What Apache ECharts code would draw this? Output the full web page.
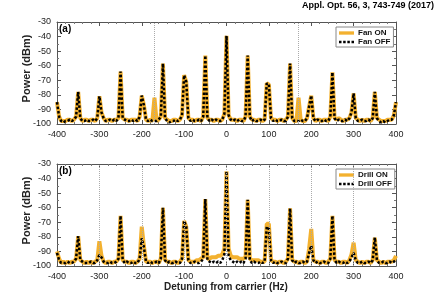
<!DOCTYPE html>
<html><head><meta charset="utf-8">
<script src="https://cdn.jsdelivr.net/npm/echarts@6/dist/echarts.min.js"></script>
<style>html,body{margin:0;padding:0;background:#fff}#c{width:438px;height:300px}</style>
</head><body><div id="c"></div>
<script>
const freq = [
-400,-395,-390,-385,-380,-375,-370,-365,-360,-355,-350,-345,-340,-335,-330,-325,-320,-315,-310,-305,
-300,-295,-290,-285,-280,-275,-270,-265,-260,-255,-250,-245,-240,-235,-230,-225,-220,-215,-210,-205,
-200,-195,-190,-185,-180,-175,-170,-165,-160,-155,-150,-145,-140,-135,-130,-125,-120,-115,-110,-105,
-100,-95,-90,-85,-80,-75,-70,-65,-60,-55,-50,-45,-40,-35,-30,-25,-20,-15,-10,-5,
0,5,10,15,20,25,30,35,40,45,50,55,60,65,70,75,80,85,90,95,
100,105,110,115,120,125,130,135,140,145,150,155,160,165,170,175,180,185,190,195,
200,205,210,215,220,225,230,235,240,245,250,255,260,265,270,275,280,285,290,295,
300,305,310,315,320,325,330,335,340,345,350,355,360,365,370,375,380,385,390,395,
400];
const fanOn = [
-85,-95,-98,-98,-98,-97,-97,-98,-97,-95,-78,-96,-98,-97,-97,-98,-97,-97,-98,-96,
-81,-92,-96,-98,-97,-97,-98,-97,-97,-96,-64,-96,-97,-97,-98,-97,-97,-97,-98,-95,
-80.5,-87,-97,-98,-97,-98,-82,-98,-97,-95,-58.5,-96,-97,-98,-98,-97,-97,-98,-97,-94,
-66.5,-71,-96,-97,-97,-98,-97,-97,-98,-95,-53,-96,-97,-97,-98,-97,-97,-98,-97,-93,
-39.5,-94,-97,-97,-97,-98,-97,-97,-98,-95,-53,-95,-97,-97,-98,-97,-97,-98,-97,-72,
-73,-96,-97,-97,-98,-97,-97,-98,-97,-95,-58.5,-96,-98,-98,-82,-97,-98,-98,-96,-88,
-80.5,-96,-98,-97,-97,-98,-97,-97,-98,-95,-64.5,-96,-97,-96,-97,-98,-97,-97,-96,-92,
-79,-96,-97,-98,-97,-98,-97,-97,-98,-96,-78,-96,-97,-98,-98,-98,-97,-97,-97,-94,
-85];
const fanOff = [
-85,-95,-98,-99,-98,-98,-97,-98,-97,-95,-78,-96,-98,-98,-97,-98,-98,-97,-98,-96,
-81,-92,-96,-98,-98,-97,-98,-97,-98,-96,-64,-96,-97,-98,-98,-97,-98,-97,-98,-95,
-80.5,-87,-97,-98,-97,-98,-98,-98,-97,-95,-58.5,-96,-98,-99,-98,-98,-97,-98,-97,-94,
-66.5,-71,-96,-98,-97,-98,-98,-97,-98,-95,-53,-96,-98,-97,-98,-97,-98,-98,-97,-93,
-39.5,-94,-97,-98,-97,-98,-97,-98,-98,-95,-53,-95,-98,-97,-98,-98,-97,-98,-97,-72,
-73,-96,-98,-97,-98,-98,-97,-98,-98,-95,-58.5,-96,-98,-98,-98,-97,-98,-98,-96,-88,
-80.5,-96,-98,-97,-98,-98,-97,-98,-98,-95,-64.5,-96,-98,-97,-98,-98,-97,-98,-96,-92,
-79,-96,-98,-98,-97,-98,-98,-97,-98,-96,-78,-96,-98,-99,-98,-99,-98,-97,-97,-94,
-85];
const drillOn = [
-90,-95,-98,-97,-98,-97,-98,-97,-97,-95,-79.5,-96,-97,-98,-97,-98,-97,-98,-97,-96,
-83,-93,-97,-98,-97,-97,-98,-97,-97,-95,-65.5,-96,-97,-97,-98,-97,-97,-98,-97,-95,
-73,-86,-97,-97,-97,-98,-97,-97,-98,-95,-60,-96,-97,-97,-98,-97,-97,-98,-97,-95,
-69,-73,-96,-97,-97,-97,-96,-96,-95,-94,-54,-95,-95,-94,-94,-94,-93,-93,-92,-88,
-35,-88,-93,-94,-94,-94,-95,-95,-95,-94,-54.5,-95,-96,-96,-96,-96,-97,-97,-97,-71,
-71,-96,-97,-97,-98,-97,-97,-98,-97,-95,-60.5,-96,-97,-97,-98,-97,-97,-98,-97,-88,
-74.5,-96,-97,-97,-98,-97,-97,-98,-97,-95,-65.5,-96,-97,-97,-98,-97,-97,-98,-96,-92,
-84,-96,-97,-98,-97,-98,-97,-97,-98,-96,-80.5,-96,-97,-98,-97,-98,-97,-97,-97,-96,
-93];
const drillOff = [
-91,-96,-98,-98,-98,-97,-98,-98,-97,-95,-79.5,-96,-97,-98,-98,-98,-97,-98,-98,-96,
-92.5,-94,-97,-98,-98,-97,-98,-98,-97,-95,-65.5,-96,-98,-97,-98,-98,-97,-98,-98,-95,
-81,-87,-97,-98,-97,-98,-98,-97,-98,-95,-60,-96,-98,-97,-98,-98,-97,-98,-98,-95,
-69,-73,-96,-98,-98,-97,-98,-98,-97,-95,-54,-96,-97,-98,-97,-98,-97,-98,-96,-92,
-35,-93,-96,-97,-98,-97,-98,-97,-98,-95,-54.5,-96,-98,-97,-98,-98,-97,-98,-97,-73,
-74,-96,-98,-97,-98,-98,-97,-98,-98,-95,-60.5,-96,-98,-97,-98,-98,-97,-98,-97,-91,
-86,-96,-98,-97,-98,-98,-97,-98,-98,-95,-65.5,-96,-98,-97,-98,-98,-97,-98,-97,-94,
-91,-96,-98,-98,-97,-98,-98,-97,-98,-96,-80.5,-96,-98,-98,-97,-98,-98,-97,-98,-97,
-96];
const topMarks = [-170, 170];
const bottomMarks = [-300, -200, -100, 0, 100, 200, 300];
const xMin = -400, xMax = 400, xStep = 100;
const yMin = -100, yMax = -30, yStep = 10;

const orange = '#F3B12F';
const frame = '#555';
const font = 'Liberation Sans, Arial, sans-serif';
const pairs = a => freq.map((f, i) => [f, a[i]]);
const iconOn = 'path://M0,0h18v4h-18z';
const iconOff = 'path://M0,0h3v3h-3zM5,0h3v3h-3zM10,0h3v3h-3zM15,0h3v3h-3z';

function xAx(gi, pos, labels) {
  return {type:'value', gridIndex:gi, position:pos, min:xMin, max:xMax, interval:xStep,
    axisLine:{show:true, onZero:false, lineStyle:{color:frame, width:1}},
    axisTick:{show:true, inside:true, length:4, lineStyle:{color:frame}},
    minorTick:{show:true, splitNumber:5, length:2, lineStyle:{color:'#777'}},
    axisLabel:{show:labels, fontSize:9, color:'#222', margin:6, fontFamily:font},
    splitLine:{show:false}};
}
function yAx(gi, pos, labels) {
  return {type:'value', gridIndex:gi, position:pos, min:yMin, max:yMax, interval:yStep,
    axisLine:{show:true, onZero:false, lineStyle:{color:frame, width:1}},
    axisTick:{show:true, inside:true, length:4, lineStyle:{color:frame}},
    minorTick:{show:true, splitNumber:2, length:2, lineStyle:{color:'#777'}},
    axisLabel:{show:labels, fontSize:9, color:'#222', margin:6, fontFamily:font},
    splitLine:{show:false}};
}
function marks(xi, yi, vals) {
  return {type:'line', xAxisIndex:xi, yAxisIndex:yi, data:[], z:1, silent:true,
    markLine:{silent:true, symbol:'none', animation:false, label:{show:false},
      lineStyle:{color:'#aaa', type:'dotted', width:1},
      data: vals.map(v => ({xAxis:v}))}};
}
function onSeries(name, xi, yi, arr) {
  return {name, type:'line', xAxisIndex:xi, yAxisIndex:yi, data:pairs(arr), showSymbol:false, symbol:'none',
    lineStyle:{color:orange, width:4}, itemStyle:{color:orange}, z:2};
}
function offSeries(name, xi, yi, arr) {
  return {name, type:'line', xAxisIndex:xi, yAxisIndex:yi, data:pairs(arr), showSymbol:false, symbol:'none',
    lineStyle:{color:'#000', width:2.5, type:[2.5,2]}, itemStyle:{color:'#000'}, z:3};
}
function legend(names, top) {
  return {orient:'vertical', left:336, top:top, padding:[2,3,1,3], itemGap:1, itemWidth:15, itemHeight:8,
    borderColor:'#888', borderWidth:1, backgroundColor:'#fff',
    textStyle:{fontSize:8, fontWeight:'bold', color:'#111', fontFamily:font, padding:[0,0,0,-1]},
    data:[{name:names[0], icon:iconOn, itemStyle:{color:orange}}, {name:names[1], icon:iconOff, itemStyle:{color:'#000'}}]};
}
const chart = echarts.init(document.getElementById('c'), null, {renderer:'canvas'});
chart.setOption({
  animation:false,
  grid:[{left:57, top:22, width:339, height:102}, {left:57, top:164, width:339, height:102}],
  xAxis:[xAx(0,'bottom',true), xAx(0,'top',false), xAx(1,'bottom',true), xAx(1,'top',false)],
  yAxis:[yAx(0,'left',true), yAx(0,'right',false), yAx(1,'left',true), yAx(1,'right',false)],
  legend:[legend(['Fan ON','Fan OFF'], 27), legend(['Drill ON','Drill OFF'], 169)],
  series:[
    marks(0,0,topMarks), marks(2,2,bottomMarks),
    onSeries('Fan ON',0,0,fanOn), offSeries('Fan OFF',0,0,fanOff),
    onSeries('Drill ON',2,2,drillOn), offSeries('Drill OFF',2,2,drillOff)
  ],
  graphic:[
    {type:'text', right:4, top:1, style:{text:'Appl. Opt. 56, 3, 743-749 (2017)', font:'bold 9px '+font, fill:'#000'}},
    {type:'text', x:27, y:68.5, rotation:Math.PI/2, style:{text:'Power (dBm)', font:'bold 11px '+font, fill:'#222', align:'center', verticalAlign:'middle'}},
    {type:'text', x:27, y:210.5, rotation:Math.PI/2, style:{text:'Power (dBm)', font:'bold 11px '+font, fill:'#222', align:'center', verticalAlign:'middle'}},
    {type:'text', x:226, y:287, style:{text:'Detuning from carrier (Hz)', font:'bold 10px '+font, fill:'#222', align:'center', verticalAlign:'middle'}},
    {type:'text', x:59, y:29, style:{text:'(a)', font:'bold 10px '+font, fill:'#000', verticalAlign:'middle'}},
    {type:'text', x:59, y:171, style:{text:'(b)', font:'bold 10px '+font, fill:'#000', verticalAlign:'middle'}}
  ]
});
</script></body></html>
